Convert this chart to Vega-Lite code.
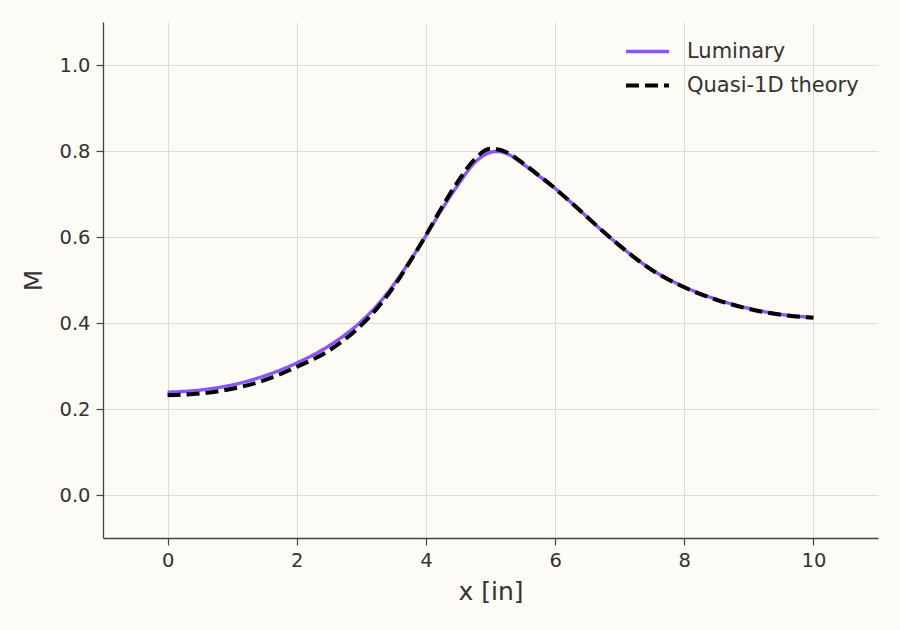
{
  "$schema": "https://vega.github.io/schema/vega-lite/v6.json",
  "width": 775,
  "height": 516,
  "autosize": "none",
  "padding": {"left": 103, "top": 22, "right": 22, "bottom": 92},
  "background": "#FCFBF5",
  "data": {
    "values": [
      {"x": 0, "M": 0.239, "series": "Luminary"},
      {"x": 0.5, "M": 0.244, "series": "Luminary"},
      {"x": 1, "M": 0.256, "series": "Luminary"},
      {"x": 1.5, "M": 0.277, "series": "Luminary"},
      {"x": 2, "M": 0.307, "series": "Luminary"},
      {"x": 2.5, "M": 0.347, "series": "Luminary"},
      {"x": 3, "M": 0.404, "series": "Luminary"},
      {"x": 3.25, "M": 0.442, "series": "Luminary"},
      {"x": 3.5, "M": 0.489, "series": "Luminary"},
      {"x": 3.75, "M": 0.544, "series": "Luminary"},
      {"x": 4, "M": 0.603, "series": "Luminary"},
      {"x": 4.25, "M": 0.665, "series": "Luminary"},
      {"x": 4.5, "M": 0.722, "series": "Luminary"},
      {"x": 4.75, "M": 0.772, "series": "Luminary"},
      {"x": 5, "M": 0.797, "series": "Luminary"},
      {"x": 5.1, "M": 0.799, "series": "Luminary"},
      {"x": 5.25, "M": 0.794, "series": "Luminary"},
      {"x": 5.5, "M": 0.770, "series": "Luminary"},
      {"x": 5.75, "M": 0.742, "series": "Luminary"},
      {"x": 6, "M": 0.713, "series": "Luminary"},
      {"x": 6.25, "M": 0.680, "series": "Luminary"},
      {"x": 6.5, "M": 0.646, "series": "Luminary"},
      {"x": 6.75, "M": 0.612, "series": "Luminary"},
      {"x": 7, "M": 0.580, "series": "Luminary"},
      {"x": 7.5, "M": 0.524, "series": "Luminary"},
      {"x": 8, "M": 0.484, "series": "Luminary"},
      {"x": 8.5, "M": 0.455, "series": "Luminary"},
      {"x": 9, "M": 0.434, "series": "Luminary"},
      {"x": 9.5, "M": 0.420, "series": "Luminary"},
      {"x": 10, "M": 0.413, "series": "Luminary"},
      {"x": 0, "M": 0.232, "series": "Quasi-1D theory"},
      {"x": 0.5, "M": 0.236, "series": "Quasi-1D theory"},
      {"x": 1, "M": 0.247, "series": "Quasi-1D theory"},
      {"x": 1.5, "M": 0.267, "series": "Quasi-1D theory"},
      {"x": 2, "M": 0.298, "series": "Quasi-1D theory"},
      {"x": 2.5, "M": 0.336, "series": "Quasi-1D theory"},
      {"x": 3, "M": 0.395, "series": "Quasi-1D theory"},
      {"x": 3.25, "M": 0.435, "series": "Quasi-1D theory"},
      {"x": 3.5, "M": 0.484, "series": "Quasi-1D theory"},
      {"x": 3.75, "M": 0.542, "series": "Quasi-1D theory"},
      {"x": 4, "M": 0.604, "series": "Quasi-1D theory"},
      {"x": 4.25, "M": 0.670, "series": "Quasi-1D theory"},
      {"x": 4.5, "M": 0.730, "series": "Quasi-1D theory"},
      {"x": 4.75, "M": 0.780, "series": "Quasi-1D theory"},
      {"x": 5, "M": 0.805, "series": "Quasi-1D theory"},
      {"x": 5.1, "M": 0.804, "series": "Quasi-1D theory"},
      {"x": 5.25, "M": 0.797, "series": "Quasi-1D theory"},
      {"x": 5.5, "M": 0.772, "series": "Quasi-1D theory"},
      {"x": 5.75, "M": 0.743, "series": "Quasi-1D theory"},
      {"x": 6, "M": 0.713, "series": "Quasi-1D theory"},
      {"x": 6.25, "M": 0.680, "series": "Quasi-1D theory"},
      {"x": 6.5, "M": 0.646, "series": "Quasi-1D theory"},
      {"x": 6.75, "M": 0.612, "series": "Quasi-1D theory"},
      {"x": 7, "M": 0.580, "series": "Quasi-1D theory"},
      {"x": 7.5, "M": 0.523, "series": "Quasi-1D theory"},
      {"x": 8, "M": 0.483, "series": "Quasi-1D theory"},
      {"x": 8.5, "M": 0.454, "series": "Quasi-1D theory"},
      {"x": 9, "M": 0.433, "series": "Quasi-1D theory"},
      {"x": 9.5, "M": 0.419, "series": "Quasi-1D theory"},
      {"x": 10, "M": 0.412, "series": "Quasi-1D theory"}
    ]
  },
  "mark": {"type": "line", "interpolate": "monotone", "clip": true},
  "encoding": {
    "x": {
      "field": "x",
      "type": "quantitative",
      "scale": {"domain": [-1, 11], "nice": false, "zero": false},
      "axis": {"values": [0, 2, 4, 6, 8, 10], "title": "x [in]", "format": "d"}
    },
    "y": {
      "field": "M",
      "type": "quantitative",
      "scale": {"domain": [-0.1, 1.1], "nice": false, "zero": false},
      "axis": {"values": [0, 0.2, 0.4, 0.6, 0.8, 1.0], "title": "M", "format": ".1f"}
    },
    "color": {
      "field": "series",
      "type": "nominal",
      "scale": {"domain": ["Luminary", "Quasi-1D theory"], "range": ["#8B55F7", "#000000"]},
      "legend": {"title": null}
    },
    "strokeDash": {
      "field": "series",
      "type": "nominal",
      "scale": {"domain": ["Luminary", "Quasi-1D theory"], "range": [[1, 0], [13, 6]]},
      "legend": {"title": null}
    },
    "strokeWidth": {
      "field": "series",
      "type": "nominal",
      "scale": {"domain": ["Luminary", "Quasi-1D theory"], "range": [3.4, 4]},
      "legend": null
    }
  },
  "config": {
    "font": "DejaVu Sans",
    "view": {"stroke": null},
    "axis": {
      "domainColor": "#444444",
      "domainWidth": 1.3,
      "tickColor": "#444444",
      "tickSize": 7,
      "tickWidth": 1.2,
      "gridColor": "#DCDCD8",
      "gridWidth": 1,
      "labelColor": "#333333",
      "labelFontSize": 19.5,
      "labelPadding": 6,
      "titleColor": "#333333",
      "titleFontSize": 25,
      "titleFontWeight": "normal"
    },
    "axisY": {"titlePadding": 12},
    "axisX": {"titlePadding": 10},
    "legend": {
      "orient": "none",
      "legendX": 521,
      "legendY": 6,
      "padding": 0,
      "labelFontSize": 21,
      "labelLimit": 400,
      "labelColor": "#333333",
      "symbolType": "stroke",
      "symbolSize": 1849,
      "symbolStrokeWidth": 3.4,
      "labelOffset": 16,
      "rowPadding": -7
    }
  }
}
